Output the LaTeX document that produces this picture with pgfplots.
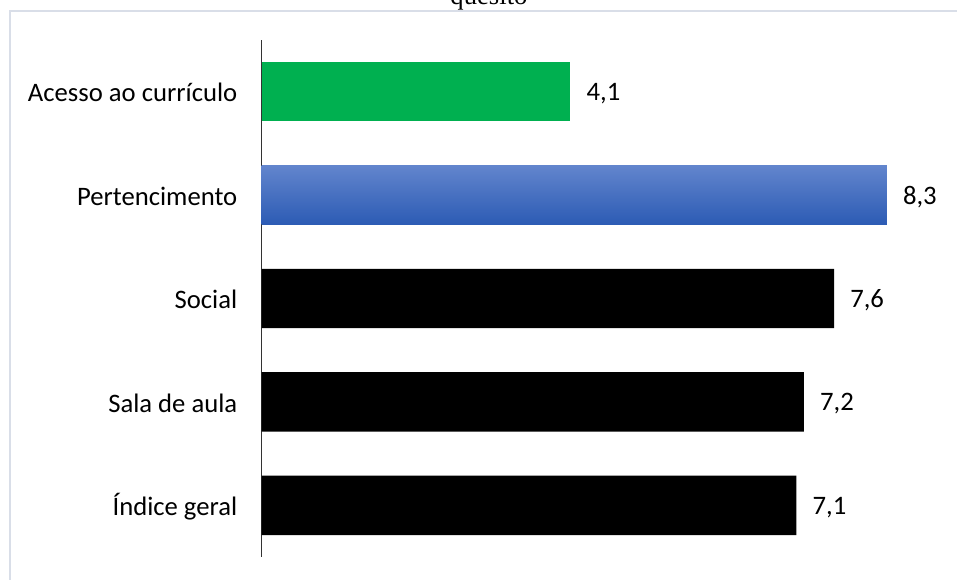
\documentclass[border=0pt]{standalone}
\usepackage{pgfplots}
\pgfplotsset{compat=1.18}
\usepackage{fontspec}
\setmainfont{Carlito}
\newfontfamily\titlefont{Liberation Serif}
\definecolor{gborder}{RGB}{217,222,232}
\definecolor{bargreen}{RGB}{0,176,80}
\definecolor{bluetop}{RGB}{98,133,205}
\definecolor{bluebot}{RGB}{44,91,180}
\begin{document}
\begin{tikzpicture}[x=0.75pt,y=0.75pt]
\useasboundingbox (0,0) rectangle (957,580);
\draw[gborder, line width=1.2pt] (10,-20) -- (10,569) -- (980,569);
\node[font=\titlefont\fontsize{20}{24}\selectfont, anchor=base, inner sep=0pt] at (489,575) {quesito};
\begin{axis}[
  at={(196.125pt,17.25pt)}, anchor=south west,
  scale only axis, width=508.5pt, height=387.75pt,
  xmin=0, xmax=9, ymin=-0.5, ymax=4.5,
  axis x line=none,
  axis y line*=left,
  y axis line style={draw=black!80, line width=0.9pt, -},
  ytick={0,1,2,3,4},
  yticklabels={Índice geral, Sala de aula, Social, Pertencimento, Acesso ao currículo},
  major tick length=0pt,
  yticklabel style={font=\fontsize{20}{24}\selectfont, inner sep=0pt, xshift=-18pt, yshift=-0.75pt, anchor=east},
  xbar, bar width=0.575, /pgf/bar shift=0pt,
  point meta=x,
  nodes near coords,
  nodes near coords align=horizontal,
  every node near coord/.append style={font=\fontsize{20}{24}\selectfont, anchor=west, inner sep=0pt, xshift=12pt, yshift=-1.5pt, black},
  /pgf/number format/.cd, use comma, fixed, fixed zerofill, precision=1, assume math mode=true,
]
\addplot[draw=none, fill=black] coordinates {(7.1,0) (7.2,1) (7.6,2)};
\addplot[draw=none, top color=bluetop, bottom color=bluebot] coordinates {(8.3,3)};
\addplot[draw=none, fill=bargreen] coordinates {(4.1,4)};
\end{axis}
\end{tikzpicture}
\end{document}
